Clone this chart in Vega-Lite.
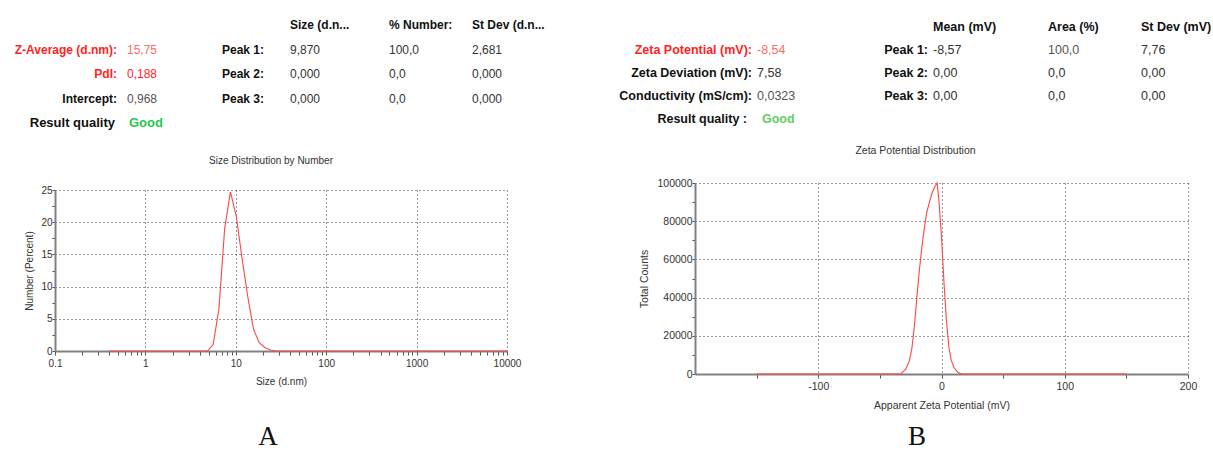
{
  "$schema": "https://vega.github.io/schema/vega-lite/v6.json",
  "padding": {"left": 14, "top": 12.75, "right": 0, "bottom": 0},
  "autosize": {"type": "pad"},
  "bounds": "flush",
  "spacing": 640,
  "config": {
    "font": "Liberation Sans",
    "view": {"stroke": null},
    "title": {"fontWeight": "normal", "color": "#333333"},
    "axis": {
      "domainColor": "#808080",
      "domainWidth": 2,
      "tickColor": "#555555",
      "tickWidth": 1,
      "tickSize": 4,
      "labelColor": "#333333",
      "labelPadding": 2,
      "titleColor": "#333333",
      "titleFontWeight": "normal",
      "grid": true,
      "gridColor": "#333333",
      "gridDash": [1, 3],
      "gridWidth": 1,
      "labelFlush": false,
      "labelOverlap": false
    }
  },
  "datasets": {
    "headA": [
      {"column": "kv", "row": "r1", "role": "label", "text": "Z-Average (d.nm):", "tone": "alert"},
      {"column": "kv", "row": "r1", "role": "value", "text": "15,75", "tone": "alertsoft"},
      {"column": "kv", "row": "r2", "role": "label", "text": "PdI:", "tone": "alert"},
      {"column": "kv", "row": "r2", "role": "value", "text": "0,188", "tone": "alert"},
      {"column": "kv", "row": "r3", "role": "label", "text": "Intercept:", "tone": "plain"},
      {"column": "kv", "row": "r3", "role": "value", "text": "0,968", "tone": "muted"},
      {"column": "kv", "row": "rq", "role": "qlabel", "text": "Result quality", "tone": "plain"},
      {"column": "kv", "row": "rq", "role": "qvalue", "text": "Good", "tone": "good"},
      {"column": "peak", "row": "head", "role": "head", "text": "Size (d.n...", "tone": "plain"},
      {"column": "peak", "row": "r1", "role": "label", "text": "Peak 1:", "tone": "plain"},
      {"column": "peak", "row": "r1", "role": "value", "text": "9,870", "tone": "value"},
      {"column": "peak", "row": "r2", "role": "label", "text": "Peak 2:", "tone": "plain"},
      {"column": "peak", "row": "r2", "role": "value", "text": "0,000", "tone": "value"},
      {"column": "peak", "row": "r3", "role": "label", "text": "Peak 3:", "tone": "plain"},
      {"column": "peak", "row": "r3", "role": "value", "text": "0,000", "tone": "value"},
      {"column": "c2", "row": "head", "role": "head", "text": "% Number:", "tone": "plain"},
      {"column": "c2", "row": "r1", "role": "value", "text": "100,0", "tone": "value"},
      {"column": "c2", "row": "r2", "role": "value", "text": "0,0", "tone": "value"},
      {"column": "c2", "row": "r3", "role": "value", "text": "0,0", "tone": "value"},
      {"column": "c3", "row": "head", "role": "head", "text": "St Dev (d.n...", "tone": "plain"},
      {"column": "c3", "row": "r1", "role": "value", "text": "2,681", "tone": "value"},
      {"column": "c3", "row": "r2", "role": "value", "text": "0,000", "tone": "value"},
      {"column": "c3", "row": "r3", "role": "value", "text": "0,000", "tone": "value"}
    ],
    "headB": [
      {"column": "kv", "row": "r1", "role": "label", "text": "Zeta Potential (mV):", "tone": "alert"},
      {"column": "kv", "row": "r1", "role": "value", "text": "-8,54", "tone": "alertsoft"},
      {"column": "kv", "row": "r2", "role": "label", "text": "Zeta Deviation (mV):", "tone": "plain"},
      {"column": "kv", "row": "r2", "role": "value", "text": "7,58", "tone": "value"},
      {"column": "kv", "row": "r3", "role": "label", "text": "Conductivity (mS/cm):", "tone": "plain"},
      {"column": "kv", "row": "r3", "role": "value", "text": "0,0323", "tone": "muted"},
      {"column": "kv", "row": "rq", "role": "qlabel", "text": "Result quality :", "tone": "plain"},
      {"column": "kv", "row": "rq", "role": "qvalue", "text": "Good", "tone": "goodsoft"},
      {"column": "peak", "row": "head", "role": "head", "text": "Mean (mV)", "tone": "plain"},
      {"column": "peak", "row": "r1", "role": "label", "text": "Peak 1:", "tone": "plain"},
      {"column": "peak", "row": "r1", "role": "value", "text": "-8,57", "tone": "value"},
      {"column": "peak", "row": "r2", "role": "label", "text": "Peak 2:", "tone": "plain"},
      {"column": "peak", "row": "r2", "role": "value", "text": "0,00", "tone": "value"},
      {"column": "peak", "row": "r3", "role": "label", "text": "Peak 3:", "tone": "plain"},
      {"column": "peak", "row": "r3", "role": "value", "text": "0,00", "tone": "value"},
      {"column": "c2", "row": "head", "role": "head", "text": "Area (%)", "tone": "plain"},
      {"column": "c2", "row": "r1", "role": "value", "text": "100,0", "tone": "muted"},
      {"column": "c2", "row": "r2", "role": "value", "text": "0,0", "tone": "value"},
      {"column": "c2", "row": "r3", "role": "value", "text": "0,0", "tone": "value"},
      {"column": "c3", "row": "head", "role": "head", "text": "St Dev (mV)", "tone": "plain"},
      {"column": "c3", "row": "r1", "role": "value", "text": "7,76", "tone": "value"},
      {"column": "c3", "row": "r2", "role": "value", "text": "0,00", "tone": "value"},
      {"column": "c3", "row": "r3", "role": "value", "text": "0,00", "tone": "value"}
    ],
    "sizeDist": [
      {"size": 0.4, "number": 0}, {"size": 0.4632, "number": 0}, {"size": 0.5365, "number": 0},
      {"size": 0.6213, "number": 0}, {"size": 0.7195, "number": 0}, {"size": 0.8332, "number": 0},
      {"size": 0.9649, "number": 0}, {"size": 1.117, "number": 0}, {"size": 1.294, "number": 0},
      {"size": 1.499, "number": 0}, {"size": 1.736, "number": 0}, {"size": 2.01, "number": 0},
      {"size": 2.328, "number": 0}, {"size": 2.696, "number": 0}, {"size": 3.122, "number": 0},
      {"size": 3.615, "number": 0}, {"size": 4.187, "number": 0}, {"size": 4.849, "number": 0},
      {"size": 5.615, "number": 1.0}, {"size": 6.503, "number": 6.5}, {"size": 7.531, "number": 19.0},
      {"size": 8.721, "number": 24.7}, {"size": 10.1, "number": 21.0}, {"size": 11.7, "number": 14.5},
      {"size": 13.54, "number": 8.5}, {"size": 15.69, "number": 3.4}, {"size": 18.17, "number": 1.3},
      {"size": 21.04, "number": 0.5}, {"size": 24.36, "number": 0.15}, {"size": 28.21, "number": 0},
      {"size": 32.67, "number": 0}, {"size": 37.84, "number": 0}, {"size": 43.82, "number": 0},
      {"size": 50.75, "number": 0}, {"size": 58.77, "number": 0}, {"size": 68.06, "number": 0},
      {"size": 78.82, "number": 0}, {"size": 91.28, "number": 0}, {"size": 105.7, "number": 0},
      {"size": 122.4, "number": 0}, {"size": 141.8, "number": 0}, {"size": 164.2, "number": 0},
      {"size": 190.1, "number": 0}, {"size": 220.2, "number": 0}, {"size": 255, "number": 0},
      {"size": 295.3, "number": 0}, {"size": 342, "number": 0}, {"size": 396.1, "number": 0},
      {"size": 458.7, "number": 0}, {"size": 531.2, "number": 0}, {"size": 615.1, "number": 0},
      {"size": 712.4, "number": 0}, {"size": 825, "number": 0}, {"size": 955.4, "number": 0},
      {"size": 1106, "number": 0}, {"size": 1281, "number": 0}, {"size": 1484, "number": 0},
      {"size": 1718, "number": 0}, {"size": 1990, "number": 0}, {"size": 2305, "number": 0},
      {"size": 2669, "number": 0}, {"size": 3091, "number": 0}, {"size": 3580, "number": 0},
      {"size": 4145, "number": 0}, {"size": 4801, "number": 0}, {"size": 5560, "number": 0},
      {"size": 6439, "number": 0}, {"size": 7456, "number": 0}, {"size": 8635, "number": 0},
      {"size": 10000, "number": 0}
    ],
    "zetaDist": [
      {"potential": -150, "counts": 0}, {"potential": -100, "counts": 0}, {"potential": -50, "counts": 0},
      {"potential": -33, "counts": 0}, {"potential": -29, "counts": 2500}, {"potential": -26, "counts": 7000},
      {"potential": -24, "counts": 13500}, {"potential": -22, "counts": 25000}, {"potential": -20, "counts": 40000},
      {"potential": -18, "counts": 54000}, {"potential": -16, "counts": 66000}, {"potential": -14, "counts": 76000},
      {"potential": -12, "counts": 84500}, {"potential": -10, "counts": 89500}, {"potential": -7.5, "counts": 95000},
      {"potential": -5.5, "counts": 98000}, {"potential": -3.5, "counts": 100000}, {"potential": -2, "counts": 90000},
      {"potential": 0, "counts": 72000}, {"potential": 2, "counts": 48000}, {"potential": 4, "counts": 28000},
      {"potential": 6, "counts": 14000}, {"potential": 8, "counts": 7000}, {"potential": 10, "counts": 3500},
      {"potential": 13, "counts": 1000}, {"potential": 16, "counts": 0}, {"potential": 50, "counts": 0},
      {"potential": 100, "counts": 0}, {"potential": 150, "counts": 0}
    ],
    "panels": [{"panel": "A"}, {"panel": "B"}]
  },
  "hconcat": [
    {
      "bounds": "flush",
      "spacing": 177.25,
      "vconcat": [
        {
          "bounds": "flush",
          "spacing": 0,
          "hconcat": [
            {
              "width": 134, "height": 122.5,
              "data": {"name": "headA"},
              "transform": [{"filter": "datum.column == 'kv'"}],
              "encoding": {
                "y": {"field": "row", "type": "nominal", "scale": {"domain": ["head", "r1", "r2", "r3", "rq"], "padding": 0.5}, "axis": null},
                "text": {"field": "text", "type": "nominal"},
                "color": {"field": "tone", "type": "nominal", "scale": {"domain": ["alert", "alertsoft", "plain", "value", "muted", "good", "goodsoft"], "range": ["#ff1f1f", "#ff6a6a", "#111111", "#333333", "#555555", "#1fc94f", "#5fcf5f"]}, "legend": null}
              },
              "layer": [
                {"transform": [{"filter": "datum.role == 'label'"}], "mark": {"type": "text", "align": "right", "dx": -5, "fontWeight": "bold", "fontSize": 12}},
                {"transform": [{"filter": "datum.role == 'value'"}], "mark": {"type": "text", "align": "left", "dx": 5, "fontSize": 12}},
                {"transform": [{"filter": "datum.role == 'qlabel'"}], "mark": {"type": "text", "align": "right", "dx": -7, "fontWeight": "bold", "fontSize": 13}},
                {"transform": [{"filter": "datum.role == 'qvalue'"}], "mark": {"type": "text", "align": "left", "dx": 7, "fontWeight": "bold", "fontSize": 13}}
              ]
            },
            {
              "width": 176, "height": 122.5,
              "data": {"name": "headA"},
              "transform": [{"filter": "datum.column == 'peak'"}],
              "encoding": {
                "y": {"field": "row", "type": "nominal", "scale": {"domain": ["head", "r1", "r2", "r3", "rq"], "padding": 0.5}, "axis": null},
                "text": {"field": "text", "type": "nominal"},
                "color": {"field": "tone", "type": "nominal", "scale": {"domain": ["alert", "alertsoft", "plain", "value", "muted", "good", "goodsoft"], "range": ["#ff1f1f", "#ff6a6a", "#111111", "#333333", "#555555", "#1fc94f", "#5fcf5f"]}, "legend": null}
              },
              "layer": [
                {"transform": [{"filter": "datum.role == 'label'"}], "mark": {"type": "text", "align": "right", "dx": -13, "fontWeight": "bold", "fontSize": 12}},
                {"transform": [{"filter": "datum.role == 'value'"}], "mark": {"type": "text", "align": "left", "dx": 13, "fontSize": 12}},
                {"transform": [{"filter": "datum.role == 'head'"}], "mark": {"type": "text", "align": "left", "dx": 13, "fontWeight": "bold", "fontSize": 12}}
              ]
            },
            {
              "width": 48, "height": 122.5,
              "data": {"name": "headA"},
              "transform": [{"filter": "datum.column == 'c2'"}],
              "encoding": {
                "y": {"field": "row", "type": "nominal", "scale": {"domain": ["head", "r1", "r2", "r3", "rq"], "padding": 0.5}, "axis": null},
                "text": {"field": "text", "type": "nominal"},
                "color": {"field": "tone", "type": "nominal", "scale": {"domain": ["alert", "alertsoft", "plain", "value", "muted", "good", "goodsoft"], "range": ["#ff1f1f", "#ff6a6a", "#111111", "#333333", "#555555", "#1fc94f", "#5fcf5f"]}, "legend": null}
              },
              "layer": [
                {"transform": [{"filter": "datum.role == 'value'"}], "mark": {"type": "text", "align": "left", "fontSize": 12}},
                {"transform": [{"filter": "datum.role == 'head'"}], "mark": {"type": "text", "align": "left", "fontWeight": "bold", "fontSize": 12}}
              ]
            },
            {
              "width": 118, "height": 122.5,
              "data": {"name": "headA"},
              "transform": [{"filter": "datum.column == 'c3'"}],
              "encoding": {
                "y": {"field": "row", "type": "nominal", "scale": {"domain": ["head", "r1", "r2", "r3", "rq"], "padding": 0.5}, "axis": null},
                "text": {"field": "text", "type": "nominal"},
                "color": {"field": "tone", "type": "nominal", "scale": {"domain": ["alert", "alertsoft", "plain", "value", "muted", "good", "goodsoft"], "range": ["#ff1f1f", "#ff6a6a", "#111111", "#333333", "#555555", "#1fc94f", "#5fcf5f"]}, "legend": null}
              },
              "layer": [
                {"transform": [{"filter": "datum.role == 'value'"}], "mark": {"type": "text", "align": "left", "fontSize": 12}},
                {"transform": [{"filter": "datum.role == 'head'"}], "mark": {"type": "text", "align": "left", "fontWeight": "bold", "fontSize": 12}}
              ]
            }
          ]
        },
        {
          "bounds": "flush",
          "spacing": 76,
          "vconcat": [
            {
              "width": 452, "height": 161,
              "data": {"name": "sizeDist"},
              "title": {"text": "Size Distribution by Number", "fontSize": 10, "frame": "group", "offset": 19.5, "dx": -10},
              "mark": {"type": "line", "color": "#ff4646", "strokeWidth": 1.1},
              "encoding": {
                "x": {
                  "field": "size", "type": "quantitative",
                  "scale": {"type": "log", "domain": [0.1, 10000], "nice": false},
                  "axis": {
                    "title": "Size (d.nm)", "titleFontSize": 10, "titlePadding": 8, "labelFontSize": 10, "labelPadding": 3,
                    "values": [0.1, 0.2, 0.3, 0.4, 0.5, 0.6, 0.7, 0.8, 0.9, 1, 2, 3, 4, 5, 6, 7, 8, 9, 10, 20, 30, 40, 50, 60, 70, 80, 90, 100, 200, 300, 400, 500, 600, 700, 800, 900, 1000, 2000, 3000, 4000, 5000, 6000, 7000, 8000, 9000, 10000],
                    "format": "~g",
                    "labelExpr": "indexof([0.1, 1, 10, 100, 1000, 10000], datum.value) >= 0 ? datum.label : ''",
                    "gridOpacity": {"condition": {"test": "indexof([1, 10, 100, 1000, 10000], datum.value) >= 0", "value": 1}, "value": 0}
                  }
                },
                "y": {
                  "field": "number", "type": "quantitative",
                  "scale": {"domain": [0, 25], "nice": false},
                  "axis": {
                    "title": "Number (Percent)", "titleFontSize": 10, "titlePadding": 6, "labelFontSize": 10, "labelPadding": 0, "tickSize": 3,
                    "values": [0, 2.5, 5, 7.5, 10, 12.5, 15, 17.5, 20, 22.5, 25],
                    "format": "~g",
                    "labelExpr": "datum.value % 5 == 0 ? datum.label : ''",
                    "gridOpacity": {"condition": {"test": "datum.value % 5 == 0 && datum.value > 0", "value": 1}, "value": 0}
                  }
                }
              }
            },
            {
              "width": 426, "height": 20,
              "data": {"name": "panels"},
              "transform": [{"filter": "datum.panel == 'A'"}],
              "mark": {"type": "text", "font": "Liberation Serif", "fontSize": 27, "color": "#111111"},
              "encoding": {"text": {"field": "panel", "type": "nominal"}}
            }
          ]
        }
      ]
    },
    {
      "bounds": "flush",
      "spacing": 170.25,
      "vconcat": [
        {
          "bounds": "flush",
          "spacing": 0,
          "hconcat": [
            {
              "width": 119, "height": 120.5,
              "data": {"name": "headB"},
              "transform": [{"filter": "datum.column == 'kv'"}],
              "encoding": {
                "y": {"field": "row", "type": "nominal", "scale": {"domain": ["head", "r1", "r2", "r3", "rq"], "padding": 0.62}, "axis": null},
                "text": {"field": "text", "type": "nominal"},
                "color": {"field": "tone", "type": "nominal", "scale": {"domain": ["alert", "alertsoft", "plain", "value", "muted", "good", "goodsoft"], "range": ["#ff1f1f", "#ff6a6a", "#111111", "#333333", "#555555", "#1fc94f", "#5fcf5f"]}, "legend": null}
              },
              "layer": [
                {"transform": [{"filter": "datum.role == 'label'"}], "mark": {"type": "text", "align": "right", "dx": -2.5, "fontWeight": "bold", "fontSize": 12.5}},
                {"transform": [{"filter": "datum.role == 'value'"}], "mark": {"type": "text", "align": "left", "dx": 2.5, "fontSize": 12.5}},
                {"transform": [{"filter": "datum.role == 'qlabel'"}], "mark": {"type": "text", "align": "right", "dx": -7.5, "fontWeight": "bold", "fontSize": 12.5}},
                {"transform": [{"filter": "datum.role == 'qvalue'"}], "mark": {"type": "text", "align": "left", "dx": 7.5, "fontWeight": "bold", "fontSize": 12.5}}
              ]
            },
            {
              "width": 233, "height": 120.5,
              "data": {"name": "headB"},
              "transform": [{"filter": "datum.column == 'peak'"}],
              "encoding": {
                "y": {"field": "row", "type": "nominal", "scale": {"domain": ["head", "r1", "r2", "r3", "rq"], "padding": 0.62}, "axis": null},
                "text": {"field": "text", "type": "nominal"},
                "color": {"field": "tone", "type": "nominal", "scale": {"domain": ["alert", "alertsoft", "plain", "value", "muted", "good", "goodsoft"], "range": ["#ff1f1f", "#ff6a6a", "#111111", "#333333", "#555555", "#1fc94f", "#5fcf5f"]}, "legend": null}
              },
              "layer": [
                {"transform": [{"filter": "datum.role == 'label'"}], "mark": {"type": "text", "align": "right", "dx": -2.5, "fontWeight": "bold", "fontSize": 12.5}},
                {"transform": [{"filter": "datum.role == 'value'"}], "mark": {"type": "text", "align": "left", "dx": 2.5, "fontSize": 12.5}},
                {"transform": [{"filter": "datum.role == 'head'"}], "mark": {"type": "text", "align": "left", "dx": 2.5, "fontWeight": "bold", "fontSize": 12.5}}
              ]
            },
            {
              "width": 2, "height": 120.5,
              "data": {"name": "headB"},
              "transform": [{"filter": "datum.column == 'c2'"}],
              "encoding": {
                "y": {"field": "row", "type": "nominal", "scale": {"domain": ["head", "r1", "r2", "r3", "rq"], "padding": 0.62}, "axis": null},
                "text": {"field": "text", "type": "nominal"},
                "color": {"field": "tone", "type": "nominal", "scale": {"domain": ["alert", "alertsoft", "plain", "value", "muted", "good", "goodsoft"], "range": ["#ff1f1f", "#ff6a6a", "#111111", "#333333", "#555555", "#1fc94f", "#5fcf5f"]}, "legend": null}
              },
              "layer": [
                {"transform": [{"filter": "datum.role == 'value'"}], "mark": {"type": "text", "align": "left", "fontSize": 12.5}},
                {"transform": [{"filter": "datum.role == 'head'"}], "mark": {"type": "text", "align": "left", "fontWeight": "bold", "fontSize": 12.5}}
              ]
            },
            {
              "width": 184, "height": 120.5,
              "data": {"name": "headB"},
              "transform": [{"filter": "datum.column == 'c3'"}],
              "encoding": {
                "y": {"field": "row", "type": "nominal", "scale": {"domain": ["head", "r1", "r2", "r3", "rq"], "padding": 0.62}, "axis": null},
                "text": {"field": "text", "type": "nominal"},
                "color": {"field": "tone", "type": "nominal", "scale": {"domain": ["alert", "alertsoft", "plain", "value", "muted", "good", "goodsoft"], "range": ["#ff1f1f", "#ff6a6a", "#111111", "#333333", "#555555", "#1fc94f", "#5fcf5f"]}, "legend": null}
              },
              "layer": [
                {"transform": [{"filter": "datum.role == 'value'"}], "mark": {"type": "text", "align": "left", "fontSize": 12.5}},
                {"transform": [{"filter": "datum.role == 'head'"}], "mark": {"type": "text", "align": "left", "fontWeight": "bold", "fontSize": 12.5}}
              ]
            }
          ]
        },
        {
          "bounds": "flush",
          "spacing": 53,
          "vconcat": [
            {
              "width": 493, "height": 191,
              "data": {"name": "zetaDist"},
              "title": {"text": "Zeta Potential Distribution", "fontSize": 10.5, "frame": "group", "offset": 21.5, "dx": -26},
              "mark": {"type": "line", "color": "#ff4646", "strokeWidth": 1.1},
              "encoding": {
                "x": {
                  "field": "potential", "type": "quantitative",
                  "scale": {"domain": [-200, 200], "nice": false},
                  "axis": {
                    "title": "Apparent Zeta Potential (mV)", "titleFontSize": 10.5, "titlePadding": 8, "labelFontSize": 10.5, "labelPadding": 3.5,
                    "values": [-150, -100, -50, 0, 50, 100, 150, 200],
                    "labelExpr": "datum.value % 100 == 0 ? toString(datum.value) : ''",
                    "gridOpacity": {"condition": {"test": "datum.value % 100 == 0", "value": 1}, "value": 0}
                  }
                },
                "y": {
                  "field": "counts", "type": "quantitative",
                  "scale": {"domain": [0, 100000], "nice": false},
                  "axis": {
                    "title": "Total Counts", "titleFontSize": 10.5, "titlePadding": 7, "labelFontSize": 10.5, "labelPadding": 0, "tickSize": 3,
                    "values": [0, 10000, 20000, 30000, 40000, 50000, 60000, 70000, 80000, 90000, 100000],
                    "format": "d",
                    "labelExpr": "datum.value % 20000 == 0 ? datum.label : ''",
                    "gridOpacity": {"condition": {"test": "datum.value % 20000 == 0 && datum.value > 0", "value": 1}, "value": 0}
                  }
                }
              }
            },
            {
              "width": 444, "height": 20,
              "data": {"name": "panels"},
              "transform": [{"filter": "datum.panel == 'B'"}],
              "mark": {"type": "text", "font": "Liberation Serif", "fontSize": 27, "color": "#111111"},
              "encoding": {"text": {"field": "panel", "type": "nominal"}}
            }
          ]
        }
      ]
    }
  ]
}
